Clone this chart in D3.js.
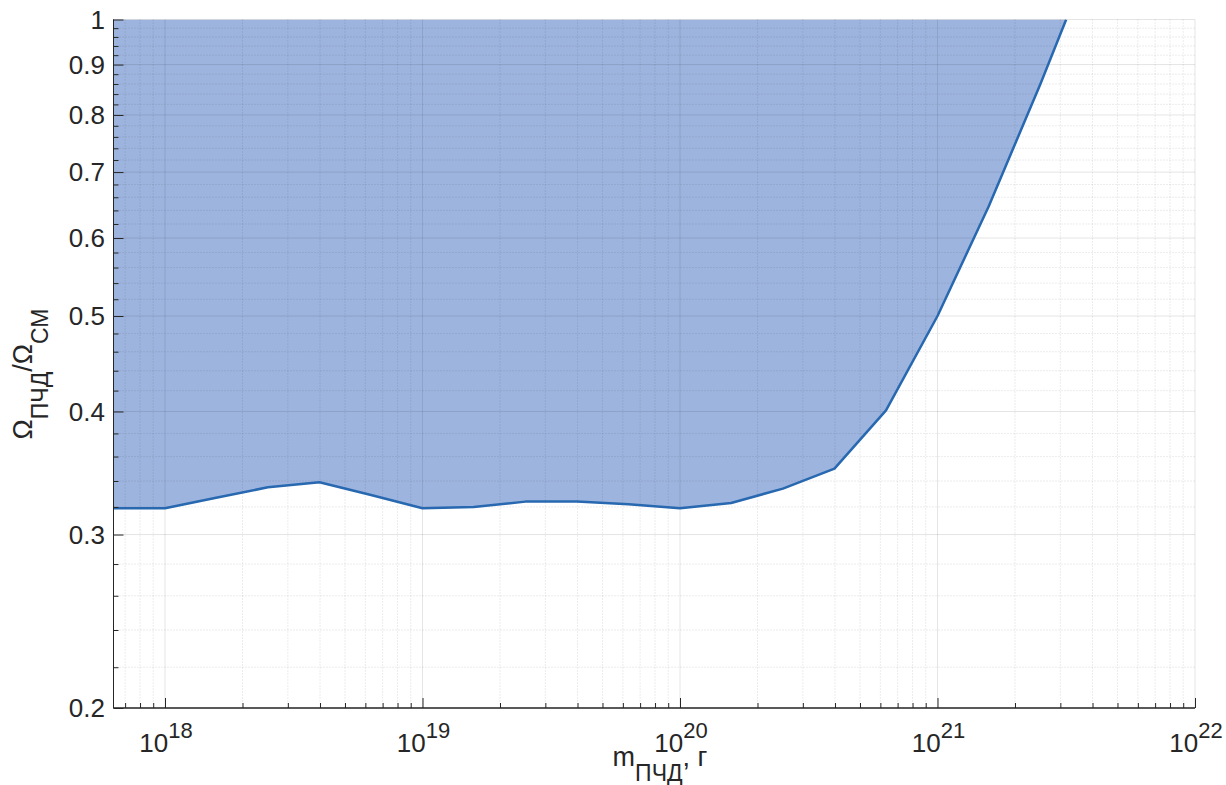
<!DOCTYPE html>
<html>
<head>
<meta charset="utf-8">
<script src="https://cdn.jsdelivr.net/npm/d3@7"></script>
<style>
  html, body { margin: 0; padding: 0; background: #fff; }
  svg { display: block; font-family: "Liberation Sans", Arial, Helvetica, sans-serif; }
</style>
</head>
<body>
<svg id="chart" width="1226" height="785"></svg>
<script>
// PBH mass, g
const masses = [6.31e17, 1e18, 1.58e18, 2.51e18, 3.98e18, 6.31e18,
                1e19, 1.58e19, 2.51e19, 3.98e19, 6.31e19,
                1e20, 1.58e20, 2.51e20, 3.98e20, 6.31e20,
                1e21, 1.58e21, 2.51e21, 3.16e21];
// upper bound on the PBH fraction of dark matter
const omegaRatio = [0.319, 0.319, 0.327, 0.335, 0.339, 0.329,
                    0.319, 0.320, 0.324, 0.324, 0.322,
                    0.319, 0.323, 0.334, 0.350, 0.401,
                    0.500, 0.646, 0.860, 1.000];

const xDomain = [Math.pow(10, 17.8), 1e22];
const yDomain = [0.2, 1];
const xMajorTicks = [1e18, 1e19, 1e20, 1e21, 1e22];
const xTickExponents = ["18", "19", "20", "21", "22"];
const yMajorTicks = [0.2, 0.3, 0.4, 0.5, 0.6, 0.7, 0.8, 0.9, 1];
const yTickLabels = ["0.2", "0.3", "0.4", "0.5", "0.6", "0.7", "0.8", "0.9", "1"];

const plotLeft = 113.5, plotRight = 1195, plotTop = 19.5, plotBottom = 708;
const ink = "#262626";
const fillColor = "#9db4de";
const lineColor = "#2768b0";

const svg = d3.select("#chart");
const x = d3.scaleLog().domain(xDomain).range([plotLeft, plotRight]);
const y = d3.scaleLog().domain(yDomain).range([plotBottom, plotTop]);

// minor tick positions
const xMinor = [];
for (let e = 17; e <= 21; e++) {
  for (let m = 2; m <= 9; m++) {
    const v = m * Math.pow(10, e);
    if (v > xDomain[0] && v < xDomain[1]) xMinor.push(v);
  }
}
const yMinor = [];
for (let i = 0; i <= 40; i++) {
  const v = +(0.2 + i * 0.02).toFixed(2);
  if (Math.abs(v * 10 - Math.round(v * 10)) > 1e-6 && v < 1) yMinor.push(v);
}

svg.append("defs").append("clipPath").attr("id", "plotClip")
  .append("rect").attr("x", plotLeft).attr("y", plotTop)
  .attr("width", plotRight - plotLeft).attr("height", plotBottom - plotTop);

const data = masses.map((m, i) => ({ m, v: omegaRatio[i] }));

// excluded region: from the curve up to Ω/Ω_DM = 1
svg.append("path")
  .datum(data)
  .attr("clip-path", "url(#plotClip)")
  .attr("fill", fillColor)
  .attr("d", d3.area()
    .x(d => x(d.m))
    .y0(y(1))
    .y1(d => y(d.v)));

// grid
const grid = svg.append("g");
grid.selectAll(".xminor").data(xMinor).join("line")
  .attr("x1", d => x(d)).attr("x2", d => x(d))
  .attr("y1", plotTop).attr("y2", plotBottom)
  .attr("stroke", "rgba(38,38,38,0.22)").attr("stroke-width", 0.8)
  .attr("stroke-dasharray", "1,2");
grid.selectAll(".yminor").data(yMinor).join("line")
  .attr("y1", d => y(d)).attr("y2", d => y(d))
  .attr("x1", plotLeft).attr("x2", plotRight)
  .attr("stroke", "rgba(38,38,38,0.22)").attr("stroke-width", 0.8)
  .attr("stroke-dasharray", "1,2");
grid.selectAll(".xmajor").data(xMajorTicks).join("line")
  .attr("x1", d => x(d)).attr("x2", d => x(d))
  .attr("y1", plotTop).attr("y2", plotBottom)
  .attr("stroke", "rgba(38,38,38,0.12)").attr("stroke-width", 1);
grid.selectAll(".ymajor").data(yMajorTicks).join("line")
  .attr("y1", d => y(d)).attr("y2", d => y(d))
  .attr("x1", plotLeft).attr("x2", plotRight)
  .attr("stroke", "rgba(38,38,38,0.12)").attr("stroke-width", 1);

// boundary curve
svg.append("path")
  .datum(data)
  .attr("clip-path", "url(#plotClip)")
  .attr("fill", "none")
  .attr("stroke", lineColor)
  .attr("stroke-width", 2.5)
  .attr("stroke-linejoin", "round")
  .attr("d", d3.line().x(d => x(d.m)).y(d => y(d.v)));

// axes (ticks pointing inward)
const xAxis = svg.append("g").attr("transform", `translate(0,${plotBottom})`);
xAxis.call(d3.axisBottom(x).tickValues(xMajorTicks).tickSize(-10).tickFormat(""));
xAxis.append("g").call(d3.axisBottom(x).tickValues(xMinor).tickSize(-5).tickFormat(""));
xAxis.selectAll(".domain").attr("stroke", ink).attr("d", `M${plotLeft},0H${plotRight}`);
xAxis.selectAll(".tick line").attr("stroke", ink);

const yAxis = svg.append("g").attr("transform", `translate(${plotLeft},0)`);
yAxis.call(d3.axisLeft(y).tickValues(yMajorTicks).tickSize(-10).tickFormat(""));
yAxis.append("g").call(d3.axisLeft(y).tickValues(yMinor).tickSize(-5).tickFormat(""));
yAxis.selectAll(".domain").attr("stroke", ink).attr("d", `M0,${plotBottom}V${plotTop}`);
yAxis.selectAll(".tick line").attr("stroke", ink);

// y tick labels
svg.append("g").selectAll("text").data(yMajorTicks).join("text")
  .attr("x", 105).attr("y", d => y(d))
  .attr("dy", "0.36em")
  .attr("text-anchor", "end")
  .style("font-size", "26px").attr("fill", ink)
  .text((d, i) => yTickLabels[i]);

// x tick labels: 10^n
const xl = svg.append("g").selectAll("text").data(xMajorTicks).join("text")
  .attr("x", d => x(d) + 1).attr("y", 752)
  .attr("text-anchor", "middle")
  .style("font-size", "26px").attr("fill", ink);
xl.append("tspan").text("10");
xl.append("tspan").style("font-size", "22px").attr("dy", -14).text((d, i) => xTickExponents[i]);

// x axis title
const xt = svg.append("text")
  .attr("x", 660).attr("y", 766)
  .attr("text-anchor", "middle")
  .style("font-size", "27px").attr("fill", ink);
xt.append("tspan").text("m");
xt.append("tspan").style("font-size", "23px").attr("dy", 15).text("ПЧД");
xt.append("tspan").attr("dy", -15).text(", г");

// y axis title
const yt = svg.append("text")
  .attr("transform", `translate(32,374) rotate(-90)`)
  .attr("text-anchor", "middle")
  .style("font-size", "27px").attr("fill", ink);
yt.append("tspan").text("Ω");
yt.append("tspan").style("font-size", "23px").attr("dy", 16).text("ПЧД");
yt.append("tspan").attr("dy", -16).text("/Ω");
yt.append("tspan").style("font-size", "23px").attr("dy", 16).text("СМ");
</script>
</body>
</html>
